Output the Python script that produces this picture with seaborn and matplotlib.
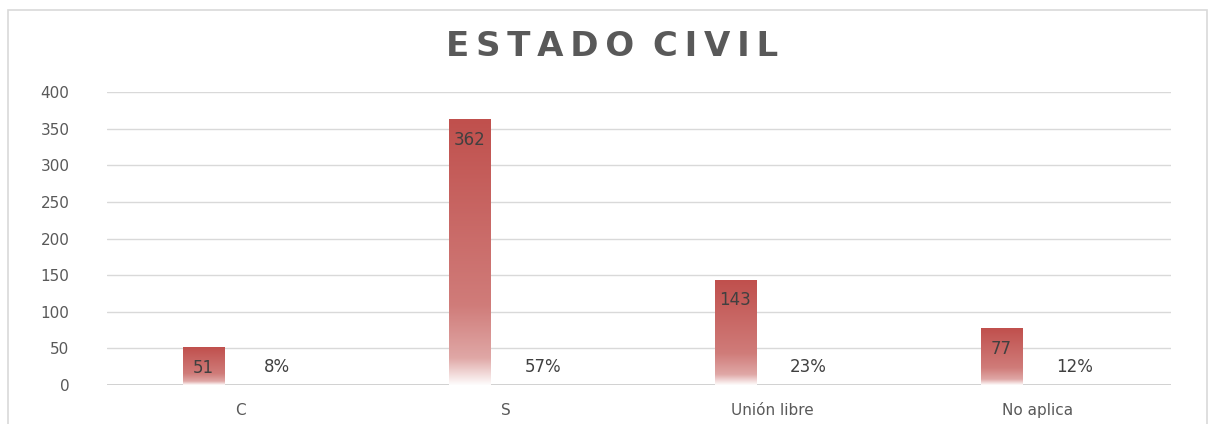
import numpy as np
import pandas as pd
import matplotlib as mpl
mpl.use('agg')
import matplotlib.pyplot as plt
import seaborn as sns
from matplotlib.colors import to_rgb
from matplotlib.patches import Rectangle

categorias = ['C', 'S', 'Unión libre', 'No aplica']
cantidad = [51, 362, 143, 77]
porcentaje = [8, 57, 23, 12]
titulo = 'ESTADO CIVIL'

df = pd.DataFrame({
    'categoria': categorias * 2,
    'serie': ['Cantidad'] * 4 + ['Porcentaje'] * 4,
    'valor': cantidad + [p / 100 for p in porcentaje],
})

sns.set_theme(style='white')
plt.rcParams['font.family'] = ['DejaVu Sans']
gris = '#595959'

fig = plt.figure(figsize=(12.09, 4.24), dpi=100)
ax = fig.add_axes([107 / 1209, 1 - 385 / 424, 1064 / 1209, 293 / 424])

sns.barplot(data=df, x='categoria', y='valor', hue='serie', order=categorias,
            hue_order=['Cantidad', 'Porcentaje'], width=0.55, gap=0.43,
            palette=['#c0504d', '#ffffff'], legend=False, ax=ax, zorder=2)

ax.set_yticks(range(0, 401, 50))
ax.yaxis.grid(True, color='#d9d9d9', lw=1.0, zorder=0)
ax.set_axisbelow(True)
sns.despine(ax=ax, left=True, bottom=True)
ax.axhline(0, color='#cfcfcf', lw=1.3, zorder=1)
ax.set_xlabel('')
ax.set_ylabel('')
ax.tick_params(axis='y', labelsize=11, colors=gris, pad=27, length=0)
ax.tick_params(axis='x', labelsize=11, colors=gris, pad=13, length=0)

# gradiente en las barras de cantidad (rojo arriba -> blanco abajo)
rojo = np.array(to_rgb('#c0504d'))
f = np.linspace(0, 1, 256)
g = np.interp(f, [0, 0.1, 0.3, 1], [0.02, 0.5, 0.75, 1.0])
col = 1 - g[:, None] * (1 - rojo[None, :])
grad = col[::-1][:, None, :]

patches = ax.patches
n = len(categorias)
for i, p in enumerate(patches[:n]):
    x0, y0 = p.get_x(), p.get_y()
    w, h = p.get_width(), p.get_height()
    p.set_visible(False)
    ax.imshow(grad, extent=[x0, x0 + w, y0, y0 + h], aspect='auto',
              zorder=2, interpolation='bilinear')
    ax.annotate(str(cantidad[i]), (x0 + w / 2, y0 + h), xytext=(0, -20),
                textcoords='offset pixels', ha='center', va='center',
                fontsize=12, color='#404040')
for i, p in enumerate(patches[n:2 * n]):
    p.set_visible(False)
    ax.annotate(f'{porcentaje[i]}%', (p.get_x() + p.get_width() / 2, 0),
                xytext=(0, 18), textcoords='offset pixels',
                ha='center', va='center', fontsize=12, color='#404040')

ax.set_xlim(-0.5, 3.5)
ax.set_ylim(0, 400)

# titulo con letras espaciadas
espaciado = ' \u2009'.join('\u2009'.join(pal) for pal in titulo.split())
fig.text(0.506, 1 - 47 / 424, espaciado, ha='center', va='center',
         fontsize=24.5, fontweight='bold', color=gris, family='DejaVu Sans')

fig.patches.append(Rectangle((8 / 1209, -0.05), 1199 / 1209, 1.05 - 10 / 424,
                             transform=fig.transFigure, fill=False,
                             edgecolor='#d9d9d9', lw=1.2))

fig.savefig('out.png', dpi=100)
